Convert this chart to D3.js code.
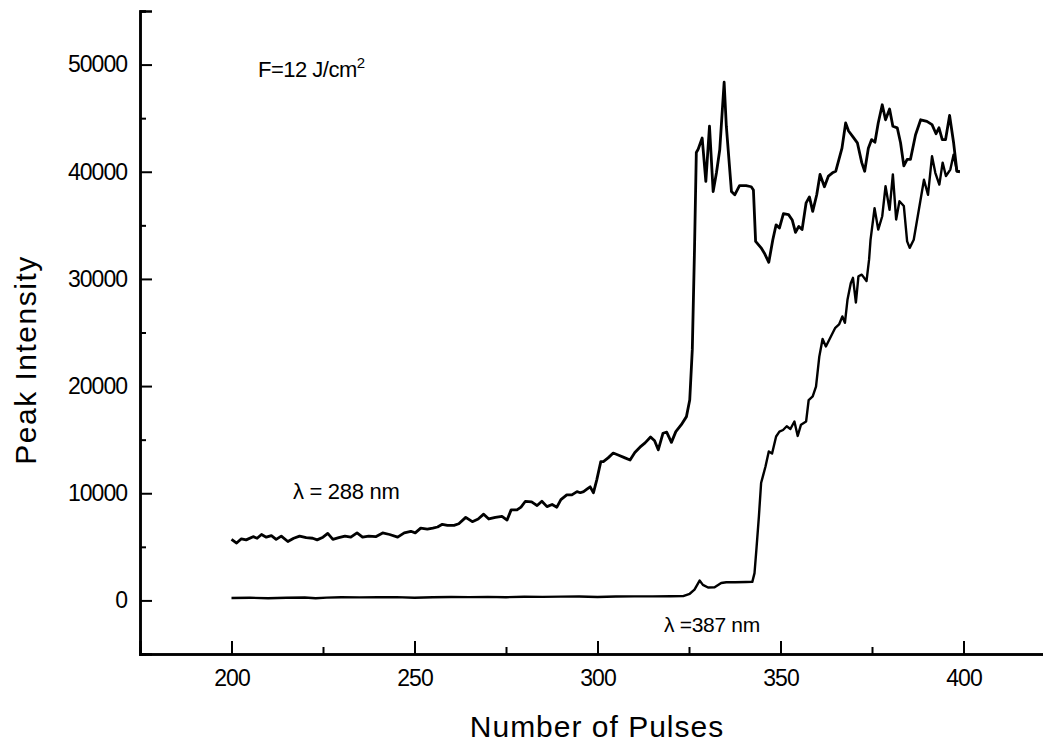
<!DOCTYPE html>
<html lang="en">
<head>
<meta charset="UTF-8">
<title>Peak Intensity vs Number of Pulses</title>
<style>
  body { margin: 0; background: #fff; }
  svg { display: block; font-family: "Liberation Sans", Arial, sans-serif; }
</style>
</head>
<body>
<svg></svg>
<script src="https://cdn.jsdelivr.net/npm/d3@7/dist/d3.min.js"></script>
<script>

// Data (pulse number, peak intensity)

const lambda288 = [
  [200, 5700], [201.4, 5350], [202.7, 5750], [204, 5650], [205.9, 5950], [207, 5800],
  [208.2, 6150], [209.5, 5900], [210.9, 6050], [212.2, 5700], [213.6, 6000], [215.4, 5500],
  [217, 5800], [218.6, 6000], [220.4, 5850], [222.2, 5800], [223.4, 5650], [225, 5900],
  [226.3, 6250], [227.7, 5700], [229.3, 5850], [231, 6000], [232.6, 5900], [234.3, 6300],
  [235.8, 5900], [237.5, 6000], [239.4, 5950], [241.3, 6300], [243.2, 6150], [245.4, 5900],
  [247.2, 6300], [249, 6450], [250.2, 6300], [251.7, 6750], [253.5, 6650], [255, 6750],
  [256.3, 6850], [257.6, 7100], [259, 7000], [260.8, 7000], [262.1, 7150], [264, 7750],
  [265.8, 7350], [267.4, 7600], [268.9, 8050], [270.3, 7600], [272.1, 7750], [273.9, 7850],
  [275.3, 7500], [276.4, 8450], [278, 8450], [279.1, 8700], [280.3, 9250], [282, 9200],
  [283.5, 8850], [284.8, 9250], [286.2, 8750], [287.6, 8950], [288.9, 8700], [290, 9400],
  [291.6, 9850], [293, 9850], [294.4, 10150], [295.3, 10050], [296.2, 10150], [297.2, 10400],
  [298, 10600], [298.9, 10050], [299.8, 11250], [300.9, 12950], [301.6, 12950], [302.9, 13300],
  [304.3, 13750], [305.8, 13550], [307.5, 13300], [308.9, 13100], [310.2, 13800], [311.6, 14300],
  [313, 14700], [314.5, 15250], [315.6, 14900], [316.6, 14050], [317.9, 15600], [318.9, 15700],
  [320.2, 14750], [321.4, 15750], [322.9, 16400], [324.3, 17150], [325.2, 18700], [325.9, 23400],
  [326.5, 32700], [327, 41800], [327.5, 42100], [328.6, 43150], [329.6, 39100], [330.6, 44250],
  [331.6, 38150], [332.5, 39900], [333.4, 42050], [334.6, 48350], [335.2, 44250], [336.6, 38150],
  [337.5, 37850], [338.8, 38700], [340.6, 38700], [342, 38600], [342.6, 38300], [343.2, 33500],
  [344.7, 32900], [345.6, 32400], [346.8, 31550], [347.9, 33650], [348.8, 35050], [349.7, 34750],
  [350.8, 36100], [352.2, 36000], [353.2, 35500], [354.1, 34350], [355, 34900], [355.9, 34600],
  [357, 37100], [357.9, 37650], [358.8, 36300], [359.9, 37850], [360.8, 39750], [362, 38600],
  [363.1, 39600], [364.2, 39900], [365.1, 40050], [366.8, 42200], [367.8, 44550], [368.6, 43800],
  [369.8, 43250], [371, 42700], [372.2, 40850], [373, 40050], [374, 42200], [374.9, 43000],
  [375.8, 42750], [376.7, 44550], [377.8, 46250], [378.7, 44850], [379.8, 45850], [380.7, 44250],
  [381.9, 44100], [382.8, 42700], [383.7, 40550], [384.6, 41150], [385.5, 41150], [386.9, 43450],
  [388.3, 44850], [390, 44700], [391.4, 44400], [392.5, 43550], [393.3, 44100], [394.2, 43000],
  [395.1, 43000], [396.2, 45250], [397.3, 42700], [398.2, 40050], [399, 40000]
];

const lambda387 = [
  [200, 230], [205, 250], [210, 200], [215, 250], [220, 270], [223, 200], [226, 260],
  [230, 300], [235, 280], [240, 300], [245, 310], [250, 250], [255, 300], [260, 320],
  [265, 310], [270, 330], [275, 300], [280, 340], [285, 330], [290, 350], [295, 370],
  [300, 320], [305, 360], [310, 380], [315, 380], [320, 390], [323.4, 400], [325.2, 620],
  [326.5, 1000], [327.9, 1850], [328.8, 1450], [330.2, 1200], [332, 1220], [333.8, 1620],
  [335.2, 1700], [337.6, 1700], [340.6, 1720], [342.3, 1730], [342.9, 2550], [343.4, 4700],
  [344.1, 7850], [344.7, 10950], [345.2, 11600], [345.9, 12500], [346.8, 13900], [347.7, 13700],
  [348.8, 15300], [349.7, 15750], [350.7, 15900], [351.7, 16250], [352.7, 16000], [353.8, 16700],
  [354.7, 15350], [355.6, 16400], [357, 16700], [357.7, 18700], [358.8, 19050], [359.7, 19950],
  [360.6, 22750], [361.5, 24400], [362.4, 23700], [363.8, 24650], [364.9, 25400], [366, 25750],
  [366.9, 26500], [367.6, 25900], [368.3, 28050], [369.2, 29600], [369.8, 30100], [370.6, 27800],
  [371.3, 30250], [372.2, 30400], [373.5, 29800], [374.2, 31800], [374.6, 33650], [375.7, 36600],
  [376.7, 34600], [377.8, 35850], [378.7, 38650], [379.8, 36450], [380.7, 39750], [381.6, 35550],
  [382.5, 37250], [383.7, 36800], [384.6, 33500], [385.3, 32900], [386.4, 33650], [387.8, 36450],
  [389.2, 39250], [390.3, 37850], [391.4, 41450], [392.3, 39900], [393.4, 38800], [394.3, 40850],
  [395.2, 39600], [396.4, 40200], [397.3, 41600], [398.2, 40050], [399, 40000]
];

// Ticks

const xTicks = [200, 250, 300, 350, 400];
const xMinorTicks = [225, 275, 325, 375];
const yTicks = [0, 10000, 20000, 30000, 40000, 50000];
const yMinorTicks = [5000, 15000, 25000, 35000, 45000, 55000];

// Layout

const width = 1043;
const height = 742;

const svg = d3.select("svg")
  .attr("width", width)
  .attr("height", height);

const x = d3.scaleLinear().domain([175, 425]).range([140, 1055]);
const y = d3.scaleLinear().domain([-5000, 55000]).range([654, 11]);

// Axes

svg.append("g")
  .attr("transform", `translate(0,${y(-5000)})`)
  .call(d3.axisBottom(x).tickValues(xTicks).tickSize(-13).tickPadding(16).tickFormat(d3.format("d")));

svg.append("g")
  .attr("transform", `translate(0,${y(-5000)})`)
  .call(d3.axisBottom(x).tickValues(xMinorTicks).tickSize(-7).tickFormat(""));

svg.append("g")
  .attr("transform", `translate(${x(175)},0)`)
  .call(d3.axisLeft(y).tickValues(yTicks).tickSize(-12).tickPadding(13).tickFormat(d3.format("d")));

svg.append("g")
  .attr("transform", `translate(${x(175)},0)`)
  .call(d3.axisLeft(y).tickValues(yMinorTicks).tickSize(-6).tickFormat(""));

svg.selectAll(".domain").attr("stroke", "#000").attr("stroke-width", 2.5);
svg.selectAll(".tick line").attr("stroke", "#000").attr("stroke-width", 2);
svg.selectAll(".tick text")
  .attr("fill", "#000")
  .style("font-size", "23px")
  .style("letter-spacing", "-1px")
  .style("font-family", "'Liberation Sans', Arial, sans-serif");

// Axis titles

svg.append("text")
  .attr("x", 597)
  .attr("y", 737)
  .attr("text-anchor", "middle")
  .style("font-size", "30px")
  .style("letter-spacing", "1px")
  .text("Number of Pulses");

svg.append("text")
  .attr("transform", "translate(36,360) rotate(-90)")
  .attr("text-anchor", "middle")
  .style("font-size", "30px")
  .style("letter-spacing", "1.5px")
  .text("Peak Intensity");

// Lines

const line = d3.line()
  .x(d => x(d[0]))
  .y(d => y(d[1]));

svg.append("path")
  .datum(lambda288)
  .attr("fill", "none")
  .attr("stroke", "#000")
  .attr("stroke-width", 2.8)
  .attr("stroke-linejoin", "round")
  .attr("d", line);

svg.append("path")
  .datum(lambda387)
  .attr("fill", "none")
  .attr("stroke", "#000")
  .attr("stroke-width", 2.4)
  .attr("stroke-linejoin", "round")
  .attr("d", line);

// Annotations

const fluence = svg.append("text")
  .attr("x", 258)
  .attr("y", 77)
  .style("font-size", "22px")
  .style("letter-spacing", "-0.5px")
  .text("F=12 J/cm");
fluence.append("tspan")
  .attr("dy", -9)
  .style("font-size", "15px")
  .text("2");

svg.append("text")
  .attr("x", 293)
  .attr("y", 499)
  .style("font-size", "22px")
  .style("letter-spacing", "-0.3px")
  .text("λ = 288 nm");

svg.append("text")
  .attr("x", 664)
  .attr("y", 632)
  .style("font-size", "21px")
  .style("letter-spacing", "-0.3px")
  .text("λ =387 nm");

</script>
</body>
</html>
